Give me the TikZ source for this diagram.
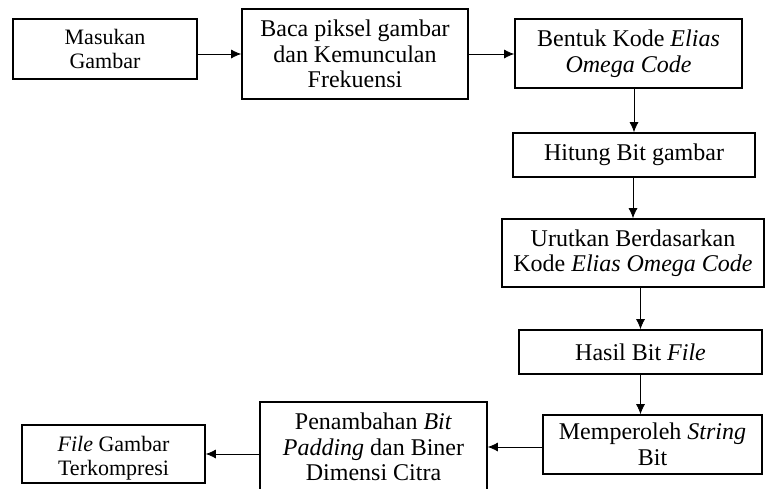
\documentclass[tikz,border=0pt]{standalone}
\usepackage{fontspec}
\setmainfont{Liberation Serif}
\usepackage{tikz}
\usetikzlibrary{positioning, calc, arrows.meta}
\tikzset{
every picture/.style={
line width=0.8pt
},
box/.style={draw, line width=1.6pt, align=center, inner sep=2pt,
  font=\fontsize{24}{25.5}\selectfont},
smallbox/.style={box, font=\fontsize{22}{23.5}\selectfont},
arr/.style={-{Latex[length=10pt, width=9pt]}, line width=0.8pt}
}

\begin{document}
\begin{tikzpicture}[x=1pt, y=-1pt]
  \useasboundingbox (0,0) rectangle (765,488);
  \clip (0,0) rectangle (765,488);

  \node [smallbox, minimum width=184pt, minimum height=60pt] (masukan) at (105, 49) {Masukan\\Gambar};
  \node [box, minimum width=226pt, minimum height=90pt] (baca) at (355, 54) {Baca piksel gambar\\dan Kemunculan\\Frekuensi};
  \node [box, minimum width=227pt, minimum height=69pt] (bentuk) at (628.5, 53.5) {Bentuk Kode \textit{Elias}\\\textit{Omega Code}};
  \node [box, minimum width=242pt, minimum height=44pt] (hitung) at (634, 155) {Hitung Bit gambar};
  \node [box, minimum width=262pt, minimum height=68pt] (urutkan) at (633, 253) {Urutkan Berdasarkan\\Kode \textit{Elias Omega Code}};
  \node [box, minimum width=243pt, minimum height=44pt] (hasil) at (640.5, 352) {Hasil Bit \textit{File}};
  \node [box, minimum width=219pt, minimum height=59pt] (peroleh) at (652.5, 444.5) {Memperoleh \textit{String}\\Bit};
  \node [box, minimum width=227pt, minimum height=90pt] (tambah) at (373.5, 447) {Penambahan \textit{Bit}\\\textit{Padding} dan Biner\\Dimensi Citra};
  \node [smallbox, minimum width=183pt, minimum height=58pt, text height=47pt] (kompresi) at (113.5, 454) {\textit{File} Gambar\\Terkompresi};

  % alur proses
  \draw [arr] (masukan.east |- baca.west) -- (baca.west);
  \draw [arr] (baca.east) -- (baca.east -| bentuk.west);
  \draw [arr] (hitung.north |- bentuk.south) -- (hitung.north);
  \draw [arr] (urutkan.north |- hitung.south) -- (urutkan.north);
  \draw [arr] (hasil.north |- urutkan.south) -- (hasil.north);
  \draw [arr] (hasil.south) -- (hasil.south |- peroleh.north);
  \draw [arr] (peroleh.west |- tambah.east) -- (tambah.east);
  \draw [arr] (tambah.west |- kompresi.east) -- (kompresi.east);

\end{tikzpicture}
\end{document}
